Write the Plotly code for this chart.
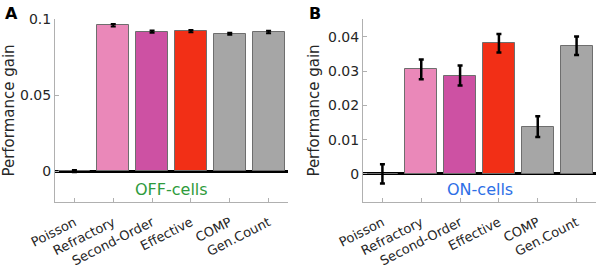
import plotly.graph_objects as go

categories = ["Poisson", "Refractory", "Second-Order", "Effective", "COMP", "Gen.Count"]
off_values = [0.0, 0.0959, 0.0917, 0.0920, 0.0903, 0.0915]
off_errors = [0.0007, 0.0008, 0.0008, 0.0007, 0.0007, 0.0008]
on_values = [0.0, 0.0305, 0.0287, 0.0381, 0.0138, 0.0374]
on_errors = [0.0028, 0.0029, 0.0029, 0.0027, 0.0030, 0.0027]
bar_colors = ["#A6A6A6", "#EA88B9", "#CD51A3", "#F22F16", "#A6A6A6", "#A6A6A6"]

FONT = "DejaVu Sans"
W, H = 598, 267

def px(x):
    return x / W

def py(y):
    return 1 - y / H

fig = go.Figure()
for vals, errs, xa, ya, th in [(off_values, off_errors, "x", "y", 2),
                               (on_values, on_errors, "x2", "y2", 2.5)]:
    fig.add_trace(go.Bar(
        x=list(range(len(categories))), y=vals, xaxis=xa, yaxis=ya,
        width=0.82,
        marker=dict(color=bar_colors, line=dict(color="#6E6E6E", width=1)),
        error_y=dict(type="data", array=errs, visible=True, color="black",
                     thickness=th, width=2.5),
        showlegend=False, hoverinfo="skip",
    ))

common_x = dict(range=[-0.5, 5.5], tickmode="array", tickvals=list(range(6)),
                ticktext=categories, tickangle=-27, ticks="inside", ticklen=4,
                tickcolor="#B0B0B0", showline=True, linecolor="#B0B0B0",
                linewidth=1, showgrid=False, zeroline=False, automargin=False,
                ticklabelstandoff=7,
                tickfont=dict(family=FONT, size=13, color="#262626"))
common_y = dict(ticks="inside", ticklen=4, tickcolor="#B0B0B0", showline=True,
                linecolor="#B0B0B0", linewidth=1, showgrid=False, automargin=False,
                zeroline=True, zerolinecolor="black", zerolinewidth=3,
                tickfont=dict(family=FONT, size=14, color="#262626"),
                title=dict(text="Performance gain", standoff=4,
                           font=dict(family=FONT, size=15, color="#262626")))

fig.update_layout(
    width=W, height=H, margin=dict(l=0, r=0, t=0, b=0),
    paper_bgcolor="white", plot_bgcolor="white", bargap=0,
    xaxis=dict(domain=[px(55), px(288)], anchor="y", **common_x),
    xaxis2=dict(domain=[px(363), px(596)], anchor="y2", **common_x),
    yaxis=dict(domain=[py(202), py(19)], anchor="x", range=[-0.0203, 0.1],
               tickvals=[0, 0.05, 0.1], ticktext=["0", "0.05", "0.1"], **common_y),
    yaxis2=dict(domain=[py(202), py(19)], anchor="x2", range=[-0.0082, 0.0452],
                tickvals=[0, 0.01, 0.02, 0.03, 0.04],
                ticktext=["0", "0.01", "0.02", "0.03", "0.04"], **common_y),
    annotations=[
        dict(text="<b>A</b>", x=px(3), y=py(2), xref="paper", yref="paper",
             xanchor="left", yanchor="top", showarrow=False,
             font=dict(family=FONT, size=16, color="black")),
        dict(text="<b>B</b>", x=px(307), y=py(2), xref="paper", yref="paper",
             xanchor="left", yanchor="top", showarrow=False,
             font=dict(family=FONT, size=16, color="black")),
        dict(text="OFF-cells", x=2.5, y=py(189), xref="x", yref="paper",
             xanchor="center", yanchor="middle", showarrow=False,
             font=dict(family=FONT, size=16, color="#2E9B3C")),
        dict(text="ON-cells", x=2.5, y=py(189), xref="x2", yref="paper",
             xanchor="center", yanchor="middle", showarrow=False,
             font=dict(family=FONT, size=16, color="#2D6FE6")),
    ],
)

fig.write_html("out.html", config={"displayModeBar": False},
               post_script="document.body.style.margin='0';document.body.style.padding='0';")
